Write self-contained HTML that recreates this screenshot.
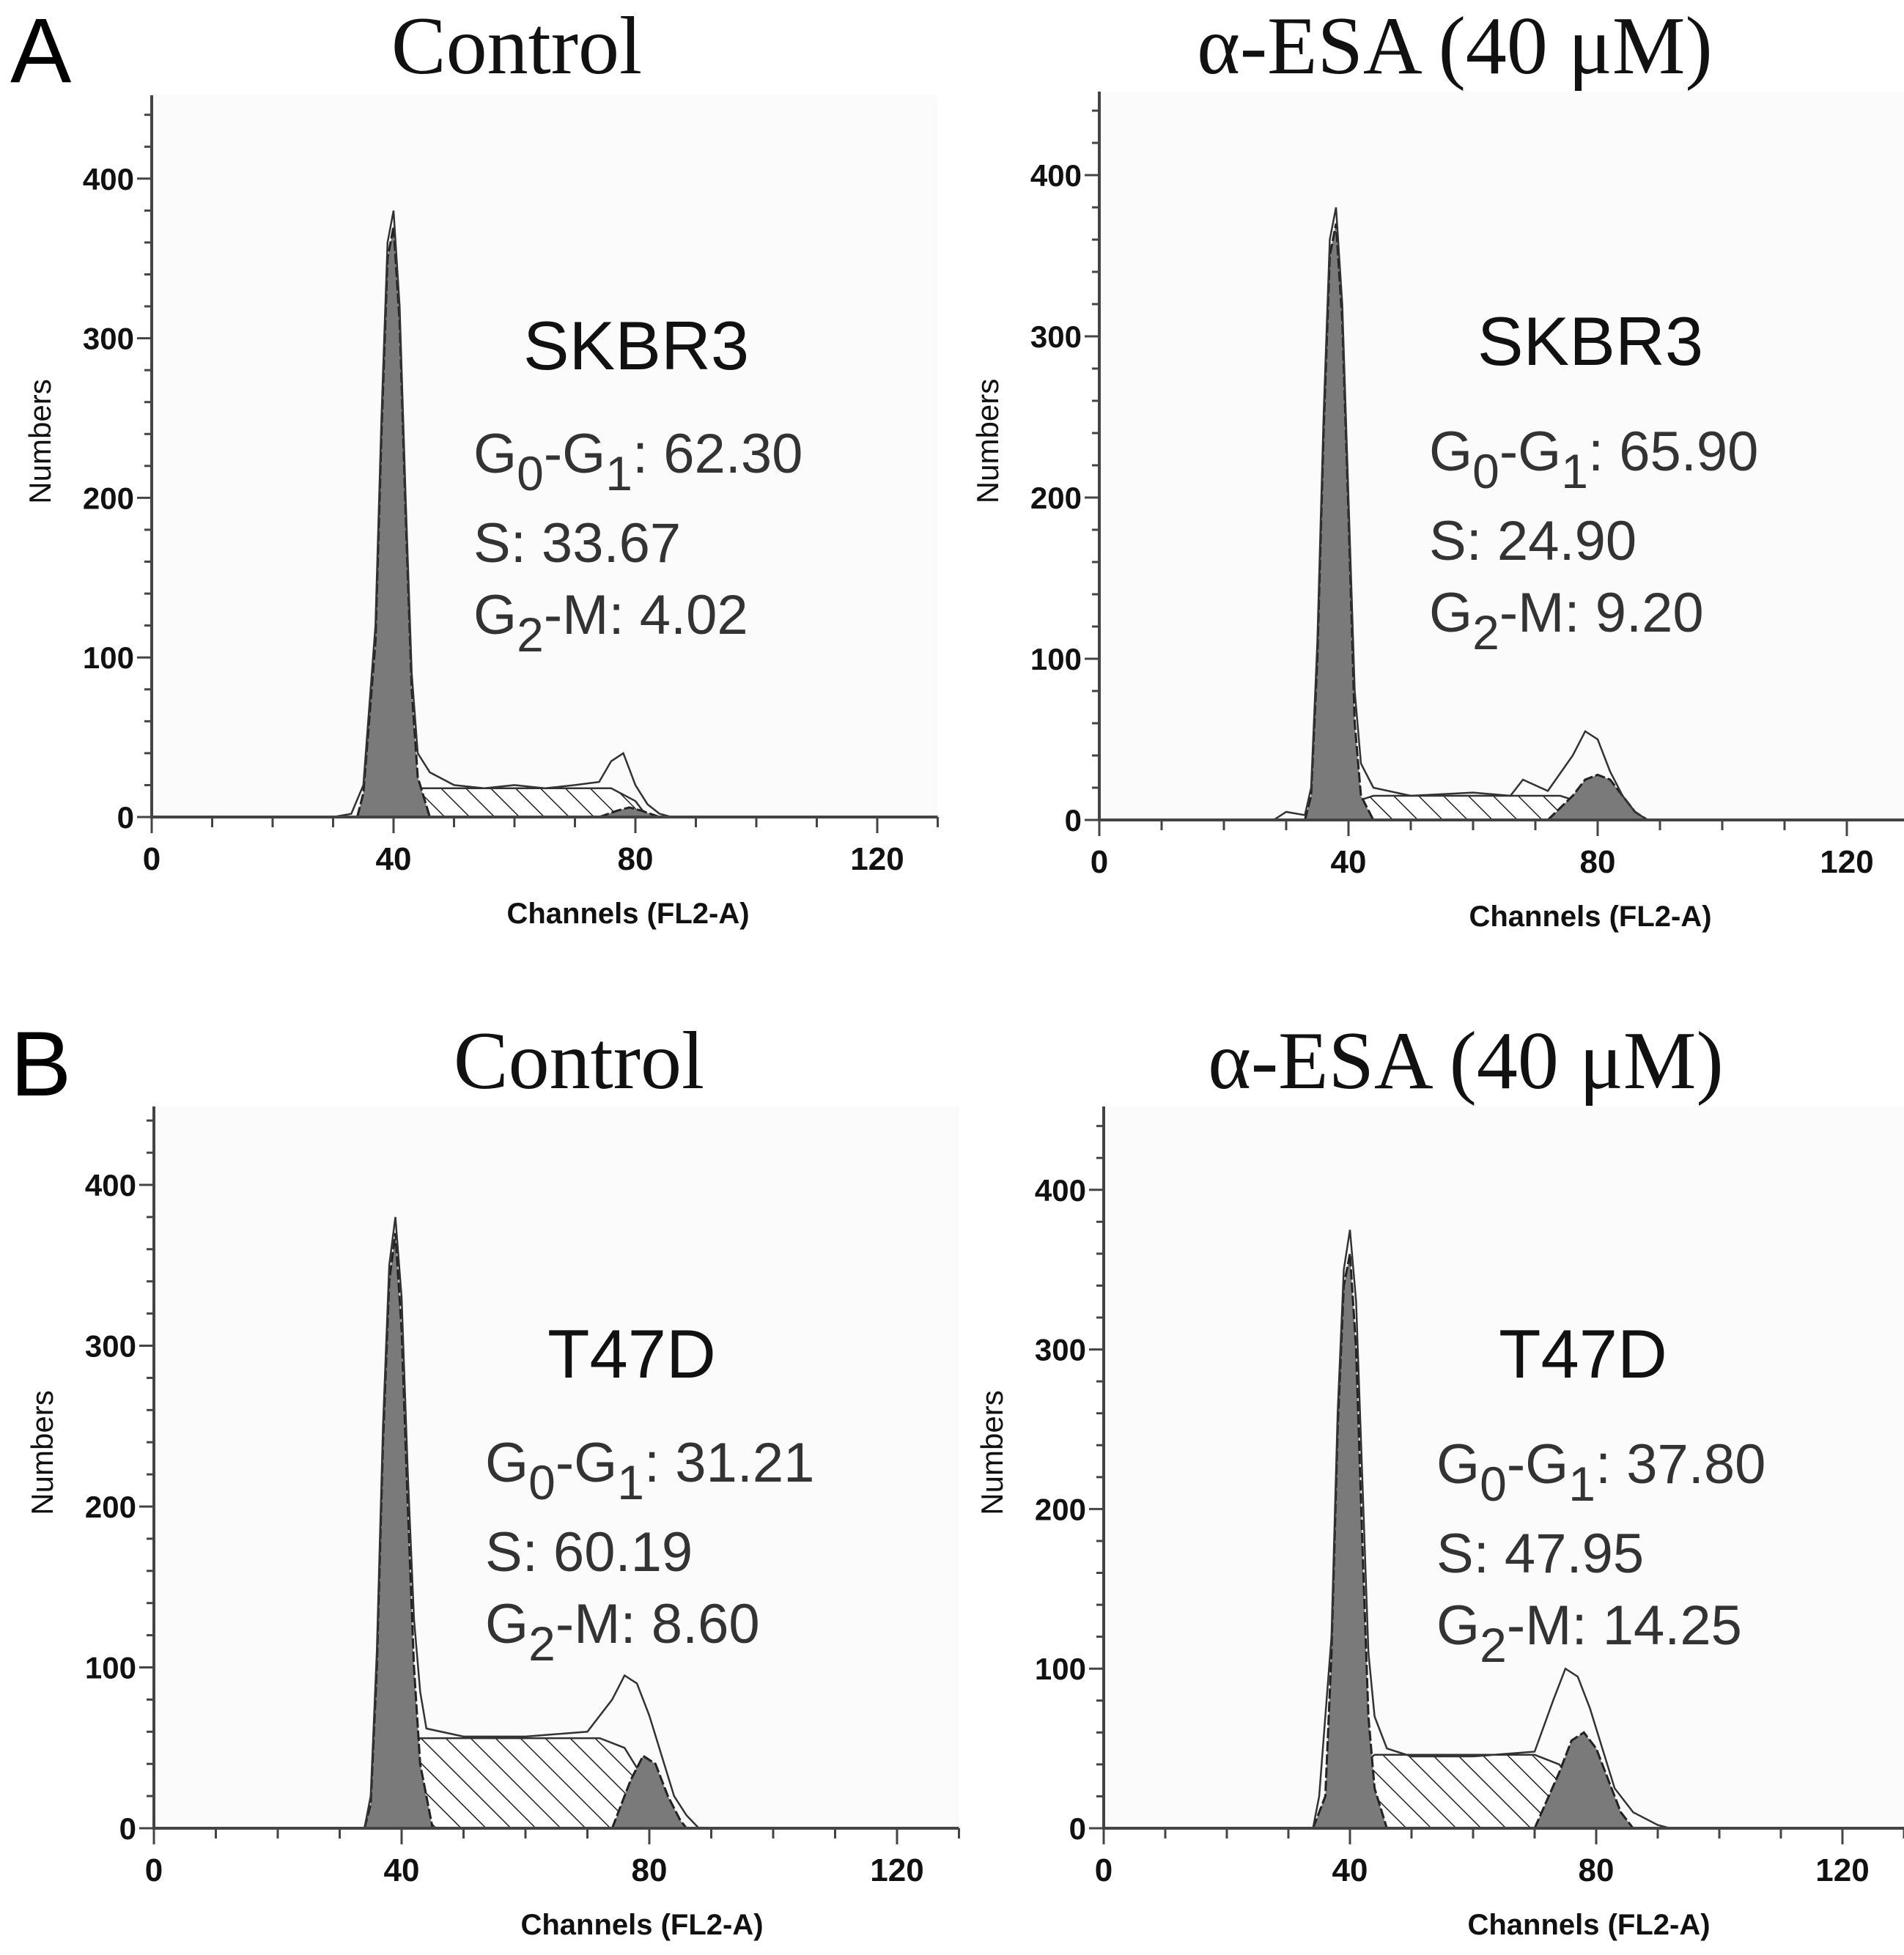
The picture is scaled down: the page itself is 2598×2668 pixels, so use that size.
<!DOCTYPE html>
<html><head><meta charset="utf-8"><style>
html,body{margin:0;padding:0;background:#fff}
svg{display:block}
</style></head><body>
<svg id="fig" width="2598" height="2668" viewBox="0 0 2598 2668" xmlns="http://www.w3.org/2000/svg">
<defs>
<pattern id="hatch" patternUnits="userSpaceOnUse" width="24" height="24" patternTransform="rotate(-45)">
<rect width="24" height="24" fill="#fff"/><line x1="0" y1="0" x2="0" y2="24" stroke="#222" stroke-width="3"/>
</pattern>
</defs>
<g id="root"></g>
</svg>
<script>
const tickLabelsX = ["0","40","80","120"];
const tickValuesX = [0,40,80,120];
const tickValuesY = [0,100,200,300,400];
const panelTitles = ["Control","α-ESA (40 μM)","Control","α-ESA (40 μM)"];
const cellLines = ["SKBR3","SKBR3","T47D","T47D"];
const g1Values = ["62.30","65.90","31.21","37.80"];
const sValues = ["33.67","24.90","60.19","47.95"];
const g2Values = ["4.02","9.20","8.60","14.25"];

const outlineA1 = [[30,0],[33,2],[35,20],[37,120],[38,250],[39,360],[40,380],[41,320],[42,200],[43,90],[44,40],[46,28],[50,20],[55,18],[60,20],[65,18],[70,20],[74,22],[76,35],[78,40],[79,30],[80,20],[82,8],[84,2],[86,0]];
const g1A1 = [[34,0],[35,15],[37,110],[38,240],[39,350],[40,370],[41,310],[42,190],[43,80],[44,25],[46,0]];
const sA1 = [[38,0],[42,15],[44,18],[76,18],[80,10],[82,0]];
const g2A1 = [[74,0],[77,4],[79,6],[81,4],[84,0]];

const outlineA2 = [[28,0],[30,5],[33,3],[34,20],[35,110],[36,250],[37,360],[38,380],[39,320],[40,200],[41,80],[42,35],[44,20],[50,15],[60,17],[66,15],[68,25],[72,18],[76,40],[78,55],[80,50],[82,30],[84,15],[86,5],[88,0]];
const g1A2 = [[33,0],[34,15],[35,100],[36,240],[37,350],[38,370],[39,310],[40,190],[41,60],[42,15],[44,0]];
const sA2 = [[36,0],[40,10],[44,15],[74,15],[78,10],[82,0]];
const g2A2 = [[72,0],[76,15],[78,25],[80,28],[82,25],[84,15],[86,5],[88,0]];

const outlineB1 = [[34,0],[35,20],[36,110],[37,250],[38,350],[39,380],[40,330],[41,220],[42,130],[43,85],[44,62],[50,57],[60,57],[70,60],[74,80],[76,95],[78,90],[80,70],[82,45],[84,20],[86,8],[88,0]];
const g1B1 = [[34,0],[35,15],[36,100],[37,240],[38,340],[39,370],[40,310],[41,200],[42,100],[43,40],[45,0]];
const sB1 = [[37,0],[40,40],[43,56],[72,56],[76,50],[80,25],[83,0]];
const g2B1 = [[74,0],[77,30],[79,45],[81,40],[83,20],[85,5],[86,0]];

const outlineB2 = [[34,0],[35,20],[37,120],[38,260],[39,350],[40,375],[41,330],[42,220],[43,110],[44,70],[46,50],[50,45],[60,45],[70,48],[73,80],[75,100],[77,95],[79,75],[81,50],[83,25],[86,10],[90,2],[92,0]];
const g1B2 = [[34,0],[36,20],[37,110],[38,250],[39,340],[40,360],[41,300],[42,180],[43,70],[44,25],[46,0]];
const sB2 = [[38,0],[42,40],[44,46],[70,46],[74,40],[78,20],[81,0]];
const g2B2 = [[70,0],[74,35],[76,55],[78,60],[80,50],[82,30],[84,10],[86,0]];

const outlines=[outlineA1,outlineA2,outlineB1,outlineB2];
const g1s=[g1A1,g1A2,g1B1,g1B2];
const ss=[sA1,sA2,sB1,sB2];
const g2s=[g2A1,g2A2,g2B1,g2B2];

const layouts=[
 {x0:207,y0:1115,px:8.25,py:2.178,top:130,titleX:705,titleY:100,tx:868,ty:504,sx:646,sy:645},
 {x0:1500,y0:1119,px:8.5,py:2.2,top:125,titleX:1985,titleY:100,tx:2170,ty:498,sx:1950,sy:642},
 {x0:210,y0:2495,px:8.45,py:2.195,top:1510,titleX:790,titleY:1485,tx:862,ty:1880,sx:662,sy:2022},
 {x0:1506,y0:2495,px:8.4,py:2.178,top:1510,titleX:2000,titleY:1485,tx:2160,ty:1880,sx:1960,sy:2024}
];
const NS="http://www.w3.org/2000/svg";
const root=document.getElementById('root');
function mk(tag,attrs,parent){const e=document.createElementNS(NS,tag);for(const k in attrs)e.setAttribute(k,attrs[k]);(parent||root).appendChild(e);return e;}
function txt(s,attrs,parent){const e=mk('text',attrs,parent);e.textContent=s;return e;}

const la=txt("A",{x:14,y:112,'font-family':'Liberation Sans, sans-serif','font-size':125,fill:'#000'});

const lb=txt("B",{x:14,y:1495,'font-family':'Liberation Sans, sans-serif','font-size':125,fill:'#000'});


layouts.forEach((L,i)=>{
 const g=mk('g',{});
 
 
 const X=c=>L.x0+c*L.px, Y=v=>L.y0-v*L.py;
 const xr=X(130);
 const bg=mk('rect',{x:L.x0,y:L.top,width:xr-L.x0,height:L.y0-L.top,fill:'#fbfbfb'},g);
 
 const path=pts=>'M'+pts.map(p=>X(p[0]).toFixed(1)+','+Y(p[1]).toFixed(1)).join('L');
 const s=mk('path',{d:path(ss[i])+'Z',fill:'url(#hatch)',stroke:'#333','stroke-width':2.5},g);
 
 const g1=mk('path',{d:path(g1s[i])+'Z',fill:'#7a7a7a',stroke:'#222','stroke-width':3,'stroke-dasharray':'14 4'},g);
 
 const g2=mk('path',{d:path(g2s[i])+'Z',fill:'#7a7a7a',stroke:'#222','stroke-width':3,'stroke-dasharray':'14 4'},g);
 
 const o=mk('path',{d:path(outlines[i]),fill:'none',stroke:'#333','stroke-width':2.5},g);
 
 const ax=mk('path',{d:`M${L.x0},${L.top}V${L.y0}H${xr}`,fill:'none',stroke:'#444','stroke-width':4},g);
 
 for(let c=10;c<=130;c+=10){
  const major=tickValuesX.includes(c);
  mk('line',{x1:X(c),x2:X(c),y1:L.y0,y2:L.y0+(major?22:14),stroke:'#444','stroke-width':3},g);
 }
 mk('line',{x1:X(0),x2:X(0),y1:L.y0,y2:L.y0+22,stroke:'#444','stroke-width':3},g);
 tickValuesX.forEach((v,k)=>{const t=txt(tickLabelsX[k],{x:X(v),y:L.y0+72,'text-anchor':'middle','font-family':'Liberation Sans, sans-serif','font-size':44,'font-weight':'bold',fill:'#111'},g);
  });
 for(let v=20;v<=440;v+=20){
  const major=v%100===0;
  mk('line',{x1:L.x0-(major?20:10),x2:L.x0,y1:Y(v),y2:Y(v),stroke:'#444','stroke-width':3},g);
 }
 mk('line',{x1:L.x0-20,x2:L.x0,y1:Y(0),y2:Y(0),stroke:'#444','stroke-width':3},g);
 tickValuesY.forEach(v=>{const t=txt(String(v),{x:L.x0-24,y:Y(v)+15,'text-anchor':'end','font-family':'Liberation Sans, sans-serif','font-size':42,'font-weight':'bold',fill:'#111'},g);
  });
 const yt=txt("Numbers",{x:0,y:0,transform:`translate(${L.x0-138},${(L.y0+L.top)/2-20}) rotate(-90)`,'text-anchor':'middle','font-family':'Liberation Sans, sans-serif','font-size':42,fill:'#111'},g);
 
 const xt=txt("Channels (FL2-A)",{x:X(80)-10,y:L.y0+145,'text-anchor':'middle','font-family':'Liberation Sans, sans-serif','font-size':40,'font-weight':'bold',fill:'#111'},g);
 
 const tt=txt(panelTitles[i],{x:L.titleX,y:L.titleY,'text-anchor':'middle','font-family':'Liberation Serif, serif','font-size':112,fill:'#111'},g);
 
 const cl=txt(cellLines[i],{x:L.tx,y:L.ty,'text-anchor':'middle','font-family':'Liberation Sans, sans-serif','font-size':94,fill:'#111'},g);
 
 const fs={'font-family':'Liberation Sans, sans-serif','font-size':76,fill:'#333'};
 const a=txt('',Object.assign({x:L.sx,y:L.sy},fs),g);
 
 a.innerHTML=`G<tspan dy="24" font-size="66">0</tspan><tspan dy="-24">-G</tspan><tspan dy="24" font-size="66">1</tspan><tspan dy="-24">: ${g1Values[i]}</tspan>`;
 const b=txt('S: '+sValues[i],Object.assign({x:L.sx,y:L.sy+122},fs),g);
 
 const c=txt('',Object.assign({x:L.sx,y:L.sy+220},fs),g);
 
 c.innerHTML=`G<tspan dy="24" font-size="66">2</tspan><tspan dy="-24">-M: ${g2Values[i]}</tspan>`;
});
</script>
</body></html>
